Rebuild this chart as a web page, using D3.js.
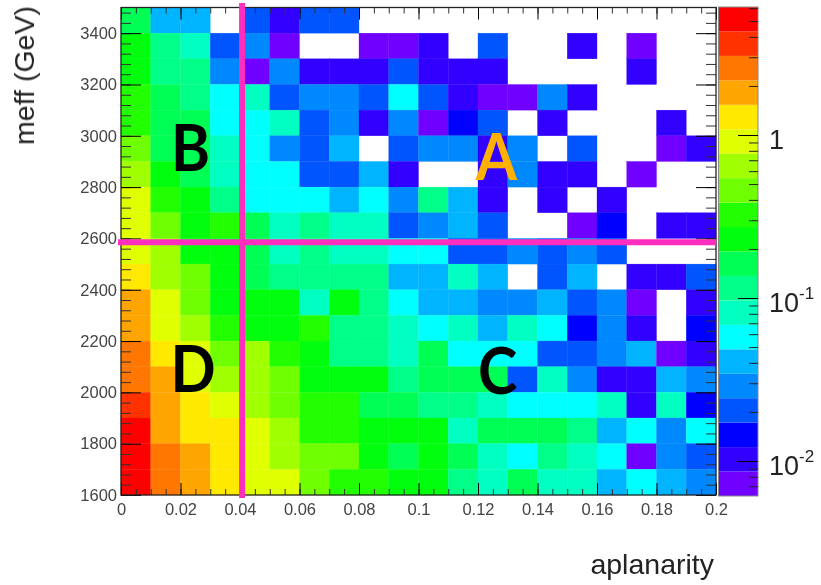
<!DOCTYPE html>
<html><head><meta charset="utf-8">
<script src="https://cdnjs.cloudflare.com/ajax/libs/d3/7.8.5/d3.min.js"></script>
<style>html,body{margin:0;padding:0;background:#fff}svg{display:block}</style></head>
<body><svg id="c" width="821" height="585"></svg>
<script>
const xDomain=[0,0.2], yDomain=[1600,3500], zDomain=[0.0061,6.1];
const xEdges=d3.range(0,20).map(i=>i/100);
const yEdges=[3400,3300,3200,3100,3000,2900,2800,2700,2600,2500,2400,2300,2200,2100,2000,1900,1800,1700,1600];
const palette=["#7000ff","#3000ff","#0000ff","#0055ff","#0088ff","#00b4ff","#00ffff","#00ffc0","#00ff88","#00ff55","#00ff11","#22ff00","#70ff00","#a0ff00","#e0ff00","#ffe900","#ffa500","#ff7700","#ff3300","#ff0000"];
const zValues=[
[.162,.0407,.0407,0,.0204,.0102,.0204,.0204,0,0,0,0,0,0,0,0,0,0,0,0],
[.229,.115,.0813,.0204,.0288,.0072,0,0,.0072,.0072,.0102,0,.0204,0,0,.0102,0,.0072,0,0],
[.229,.115,.115,.0288,.0072,.0288,.0102,.0102,.0102,.0204,.0102,.0102,.0102,0,0,0,0,.0102,0,0],
[.324,.162,.115,.0575,.0813,.0204,.0288,.0288,.0204,.0575,.0204,.0102,.0072,.0072,.0288,.0102,0,0,0,0],
[.324,.162,.162,.0575,.0575,.0813,.0204,.0288,.0102,.0288,.0072,.0145,.0204,0,.0102,0,0,0,.0102,0],
[.457,.162,.162,.0813,.0575,.0288,.0204,.0407,0,.0204,.0288,.0288,.0102,.0288,0,.0204,0,0,.0072,.0102],
[.646,.229,.162,.0813,.0575,.0575,.0204,.0204,.0407,.0102,0,0,.0102,.0288,.0102,.0102,0,.0072,0,0],
[.912,.324,.229,.115,.0575,.0575,.0575,.0407,.0575,.0288,.115,.0407,.0102,0,.0102,0,.0102,0,0,0],
[.912,.457,.229,.324,.162,.0813,.115,.0813,.0813,.0204,.0288,.0407,.0204,0,0,.0072,.0145,0,.0102,.0102],
[.912,.646,.229,.229,.162,.0813,.115,.0813,.0813,.0575,.0575,.0204,.0204,.0288,.0204,.0288,.0204,0,0,0],
[1.29,.646,.457,.229,.162,.115,.115,.115,.115,.0407,.0407,.0813,.0407,0,.0204,.0407,0,.0102,.0102,.0204],
[1.82,.912,.457,.229,.229,.229,.0813,.229,.115,.0575,.0407,.0407,.0288,.0288,.0407,.0204,.0288,.0072,0,.0102],
[1.82,.912,.646,.324,.229,.229,.324,.115,.115,.0813,.0575,.0813,.0407,.0813,.0575,.0145,.0288,.0102,0,.0145],
[2.57,1.29,.912,.457,.646,.324,.229,.115,.115,.0813,.162,.0575,.0575,.0575,.0204,.0204,.0288,.0407,.0072,.0102],
[2.57,1.82,.912,.646,.646,.457,.229,.229,.229,.115,.162,.162,.162,.0204,.0813,.0288,.0102,.0102,.0407,.0288],
[3.63,1.82,1.29,.912,.646,.457,.324,.324,.162,.162,.115,.115,.0813,.0575,.0575,.0575,.0813,.0102,.0813,.0145],
[5.13,1.82,1.29,1.29,.912,.646,.324,.324,.229,.229,.229,.0813,.162,.162,.162,.115,.0407,.0575,.0288,.0575],
[5.13,2.57,1.82,1.29,.912,.646,.457,.457,.229,.162,.229,.162,.0813,.0575,.115,.0813,.0575,.0072,.0288,.0204],
[5.13,2.57,1.82,1.29,.912,.912,.457,.324,.324,.229,.229,.115,.0813,.162,.0813,.0813,.0407,.0575,.0407,.0288]
];
const xMajor=[0,0.02,0.04,0.06,0.08,0.1,0.12,0.14,0.16,0.18,0.2];
const xMinor=d3.range(0,41).map(i=>i*0.005);
const yMajor=[1600,1800,2000,2200,2400,2600,2800,3000,3200,3400];
const yMinor=d3.range(0,48).map(i=>1600+i*40);
const zMajor=[0.01,0.1,1];
const zMinor=[0.007,0.008,0.009,0.02,0.03,0.04,0.05,0.06,0.07,0.08,0.09,0.2,0.3,0.4,0.5,0.6,0.7,0.8,0.9,2,3,4,5,6];
const cutX=0.0407, cutY=2585;
const regionLabels=[["B",0.02336,2862,"#000"],["D",0.0242,2001,"#000"],["C",0.1266,1994,"#000"],["A",0.1262,2828,"#ffb000"]];

const L=121,R=716,T=7.5,B=495;
const svg=d3.select("#c");
svg.append("defs").append("filter").attr("id","soft").attr("x","-2%").attr("y","-2%").attr("width","104%").attr("height","104%")
  .append("feGaussianBlur").attr("stdDeviation",0.6);
const root=svg.append("g").attr("filter","url(#soft)");
const x=d3.scaleLinear().domain(xDomain).range([L,R]);
const y=d3.scaleLinear().domain(yDomain).range([B,T]);
const zPos=d3.scaleLog().domain(zDomain).range([496,7]);
const zColor=d3.scaleQuantize().domain(zDomain.map(Math.log10)).range(palette);

root.append("g").selectAll("g").data(zValues).join("g").each(function(row,ri){
  d3.select(this).selectAll("rect").data(row.map((v,ci)=>({v,ci}))).join("rect")
    .filter(d=>d.v>0)
    .attr("x",d=>x(xEdges[d.ci])).attr("width",x(0.01)-x(0))
    .attr("y",y(yEdges[ri]+100)).attr("height",y(0)-y(100))
    .attr("fill",d=>zColor(Math.log10(d.v))).attr("stroke",d=>zColor(Math.log10(d.v))).attr("stroke-width",0.3);
});

function style(g,col){g.select(".domain").remove();g.selectAll("line").attr("stroke",col||"#000").attr("stroke-width",1);g.selectAll("text").attr("font-family","Liberation Sans, Arial, sans-serif").attr("fill","#444");}
const fmtX=d=>d===0?"0":String(+d.toFixed(2));
const addAxis=(ax,tr,col)=>{const g=root.append("g").attr("transform",tr).call(ax);style(g,col);return g;};
addAxis(d3.axisBottom(x).tickValues(xMinor).tickSize(-6).tickFormat(""),`translate(0,${B})`,"#333");
addAxis(d3.axisTop(x).tickValues(xMinor).tickSize(-6).tickFormat(""),`translate(0,${T})`,"#333");
addAxis(d3.axisTop(x).tickValues(xMajor).tickSize(-12).tickFormat(""),`translate(0,${T})`);
const gx=addAxis(d3.axisBottom(x).tickValues(xMajor).tickSize(-12).tickPadding(8).tickFormat(fmtX),`translate(0,${B})`);
gx.selectAll("text").attr("font-size",16.5);
addAxis(d3.axisLeft(y).tickValues(yMinor).tickSize(-10).tickFormat(""),`translate(${L},0)`,"#333");
addAxis(d3.axisRight(y).tickValues(yMinor).tickSize(-10).tickFormat(""),`translate(${R},0)`,"#333");
addAxis(d3.axisRight(y).tickValues(yMajor).tickSize(-20).tickFormat(""),`translate(${R},0)`);
const gy=addAxis(d3.axisLeft(y).tickValues(yMajor).tickSize(-20).tickPadding(4).tickFormat(d=>d),`translate(${L},0)`);
gy.selectAll("text").attr("font-size",16.5);
root.append("rect").attr("x",L).attr("y",T).attr("width",R-L).attr("height",B-T).attr("fill","none").attr("stroke","#222").attr("stroke-width",1.3);

// colour bar
const barL=718.5,barR=758;
const bandEdges=d3.range(0,21).map(i=>Math.pow(10,Math.log10(zDomain[0])+i*(Math.log10(zDomain[1])-Math.log10(zDomain[0]))/20));
root.append("g").selectAll("rect").data(palette).join("rect")
  .attr("x",barL).attr("width",barR-barL)
  .attr("y",(d,i)=>zPos(bandEdges[i+1])).attr("height",(d,i)=>zPos(bandEdges[i])-zPos(bandEdges[i+1]))
  .attr("fill",d=>d);
root.append("rect").attr("x",barL).attr("y",7).attr("width",barR-barL).attr("height",489).attr("fill","none").attr("stroke","#888").attr("stroke-width",1);
addAxis(d3.axisRight(zPos).tickValues(zMinor).tickSize(-9).tickFormat(""),`translate(${barR},0)`,"#222");
addAxis(d3.axisRight(zPos).tickValues(zMajor).tickSize(-20).tickFormat(""),`translate(${barR},0)`);
const zText=root.append("g").attr("font-family","Liberation Sans, Arial, sans-serif").attr("font-size",27).attr("fill","#222");
zMajor.forEach(v=>{
  const t=zText.append("text").attr("x",769).attr("y",zPos(v)+13.5);
  if(v===1){t.text("1");}
  else{t.append("tspan").text("10");t.append("tspan").attr("dy",-13).attr("font-size",17).text(String(Math.round(Math.log10(v))));}
});

// cut lines
root.append("line").attr("x1",x(cutX)).attr("x2",x(cutX)).attr("y1",3).attr("y2",498).attr("stroke","#ff2fbf").attr("stroke-width",6);
root.append("line").attr("x1",118).attr("x2",R).attr("y1",y(cutY)).attr("y2",y(cutY)).attr("stroke","#ff2fbf").attr("stroke-width",6);

// region letters
root.append("g").selectAll("text").data(regionLabels).join("text")
  .attr("transform",d=>`translate(${x(d[1])},${y(d[2])}) scale(0.9,1)`).attr("text-anchor","middle")
  .attr("font-family","Lato, sans-serif").attr("font-weight",700).attr("font-size",66)
  .attr("fill",d=>d[3]).text(d=>d[0]);

// titles
root.append("text").attr("transform","translate(34,75.5) rotate(-90)").attr("text-anchor","middle")
  .attr("font-family","Liberation Sans, Arial, sans-serif").attr("font-size",28.5).attr("fill","#222").text("meff (GeV)");
root.append("text").attr("x",714).attr("y",574).attr("text-anchor","end")
  .attr("font-family","Liberation Sans, Arial, sans-serif").attr("font-size",28.5).attr("fill","#222").text("aplanarity");
</script></body></html>
